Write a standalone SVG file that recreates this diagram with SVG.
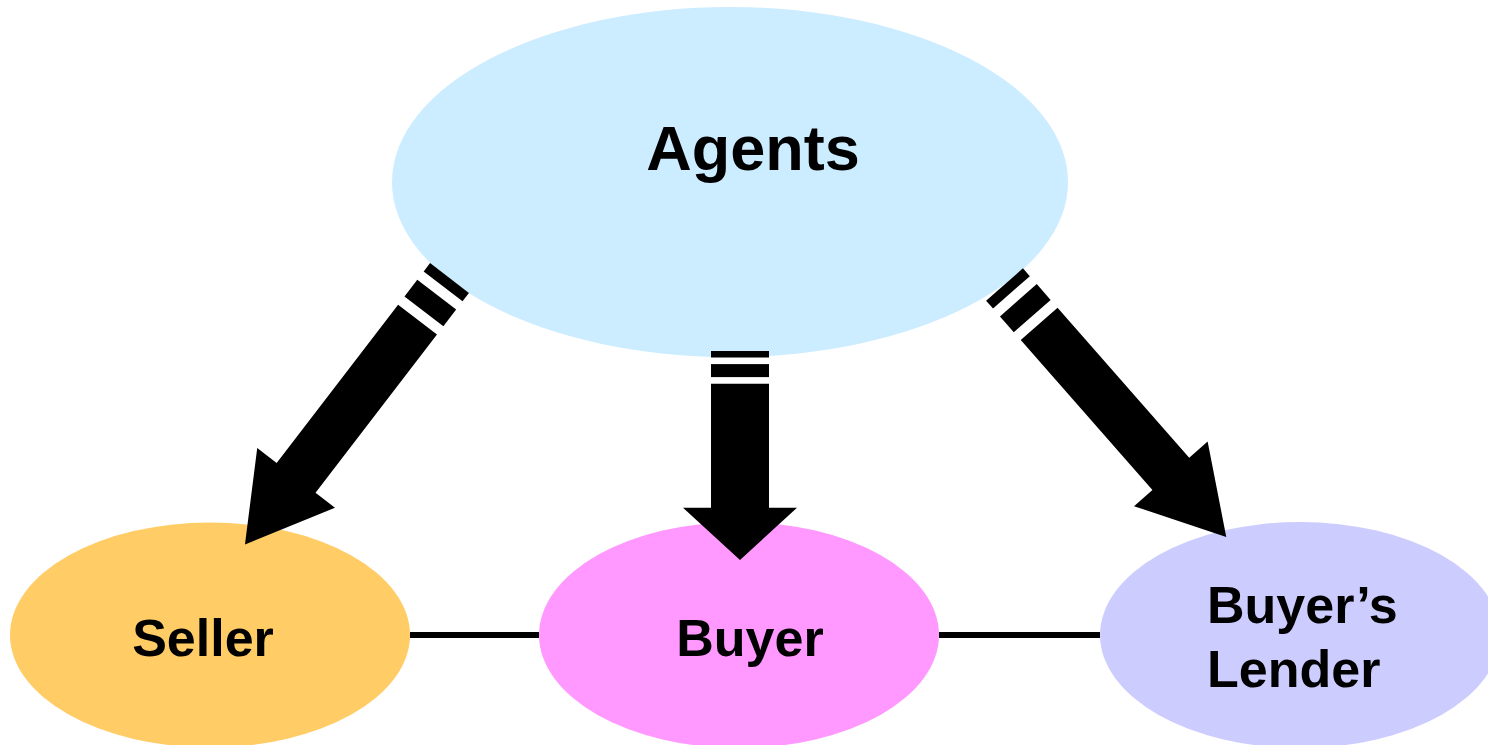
<svg xmlns="http://www.w3.org/2000/svg" width="1488" height="745" viewBox="0 0 1488 745">
  <style>
    .label { font-family: "Liberation Sans", Arial, sans-serif; font-weight: bold; fill: #000000; }
    .link { stroke: #000000; stroke-width: 6; fill: none; }
    .arrow { fill: #000000; }
  </style>
  <defs>
    <!-- striped block arrow, tail at origin pointing along +x, length 209 -->
    <g id="arrowMid" class="arrow">
      <rect x="0" y="-29" width="6.5" height="58"/>
      <rect x="13.1" y="-29" width="13" height="58"/>
      <polygon points="32.7,-29 156.75,-29 156.75,-57 209,0 156.75,57 156.75,29 32.7,29"/>
    </g>
    <!-- striped block arrow, length 336 -->
    <g id="arrowSide" class="arrow">
      <rect x="0" y="-24.5" width="10.5" height="49"/>
      <rect x="21" y="-24.5" width="21" height="49"/>
      <polygon points="52.5,-24.5 252,-24.5 252,-49 336,0 252,49 252,24.5 52.5,24.5"/>
    </g>
  </defs>

  <rect x="0" y="0" width="1488" height="745" fill="#ffffff"/>

  <g id="agents">
    <ellipse cx="730" cy="182" rx="338" ry="175" fill="#CCECFF"/>
    <text class="label" x="753" y="170" font-size="63" text-anchor="middle">Agents</text>
  </g>

  <g id="seller">
    <ellipse cx="210" cy="635" rx="200" ry="112.5" fill="#FFCC66"/>
    <text class="label" x="203" y="656" font-size="52" text-anchor="middle">Seller</text>
  </g>

  <g id="buyer">
    <ellipse cx="739" cy="635" rx="200" ry="113" fill="#FF99FF"/>
    <text class="label" x="750" y="656" font-size="52" text-anchor="middle">Buyer</text>
  </g>

  <g id="lender">
    <ellipse cx="1300" cy="635" rx="200" ry="113" fill="#CCCCFF"/>
    <text class="label" x="1207" y="623" font-size="52">Buyer’s</text>
    <text class="label" x="1207" y="687" font-size="52">Lender</text>
  </g>

  <g id="connectors">
    <line class="link" x1="410" y1="635" x2="539" y2="635"/>
    <line class="link" x1="939" y1="635" x2="1100" y2="635"/>
    <use href="#arrowSide" transform="translate(449.5,278) rotate(127.5)"/>
    <use href="#arrowMid" transform="translate(740,351) rotate(90)"/>
    <use href="#arrowSide" transform="translate(1004.5,284.5) rotate(48.7)"/>
  </g>
</svg>
